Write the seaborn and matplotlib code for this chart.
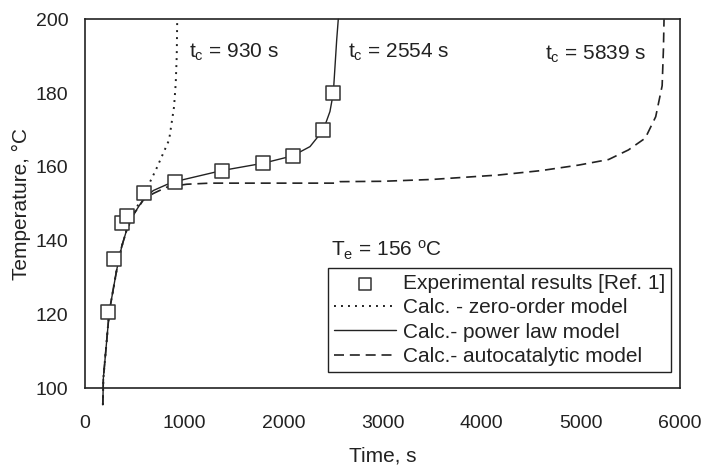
import pandas as pd
import matplotlib
matplotlib.use('Agg')
import matplotlib.pyplot as plt
import seaborn as sns

# experimental points
exp_time = [235, 295, 376, 420, 595, 905, 1378, 1798, 2094, 2403, 2504]
exp_temp = [120.8, 135.0, 144.7, 146.7, 153.0, 156.0, 159.0, 161.0, 163.0, 170.0, 180.0]

# zero-order model (dotted)
zero_time = [180, 185, 245, 319, 370, 420, 487, 540, 615, 715, 848, 898, 915, 925, 930]
zero_temp = [95.5, 102.7, 120.8, 132.0, 138.4, 142.9, 147.0, 150.0, 153.7, 159.2, 167.3, 176.3, 182.7, 190.0, 200.0]

# power law model (solid)
power_time = [180, 185, 245, 319, 370, 420, 487, 588, 689, 823, 905, 1378, 1798, 2094, 2269, 2403,
              2470, 2504, 2521, 2538, 2554]
power_temp = [95.5, 102.7, 120.8, 132.0, 138.4, 142.9, 147.0, 151.2, 153.6, 155.2, 156.0, 159.0, 161.0,
              163.0, 165.5, 170.0, 175.0, 180.0, 187.2, 194.4, 200.0]

# autocatalytic model (dashed)
auto_time = [180, 185, 245, 319, 370, 420, 487, 588, 689, 823, 1025, 1261, 2000, 2530, 2570, 3000,
             3500, 4170, 4600, 4980, 5280, 5480, 5650, 5755, 5820, 5833, 5839]
auto_temp = [95.5, 102.7, 120.8, 132.0, 138.4, 142.9, 147.0, 151.0, 152.8, 154.5, 155.3, 155.6, 155.6,
             155.6, 156.0, 156.1, 156.6, 157.8, 159.0, 160.5, 162.0, 164.6, 167.8, 173.6, 182.0, 192.0, 200.0]

sns.set_style('white')
plt.rcParams['font.family'] = ['Liberation Sans', 'DejaVu Sans']
plt.rcParams['mathtext.fontset'] = 'custom'
plt.rcParams['mathtext.rm'] = 'Liberation Sans'
plt.rcParams['mathtext.it'] = 'Liberation Sans:italic'
plt.rcParams['text.color'] = '#222222'

ink = '#222222'

fig = plt.figure(figsize=(7.05, 4.68), dpi=100)
ax = fig.add_axes([85 / 705, 1 - 388.3 / 468, 595 / 705, 369 / 468])

exp_df = pd.DataFrame({'time': exp_time, 'temp': exp_temp})
zero_df = pd.DataFrame({'time': zero_time, 'temp': zero_temp})
power_df = pd.DataFrame({'time': power_time, 'temp': power_temp})
auto_df = pd.DataFrame({'time': auto_time, 'temp': auto_temp})

sns.lineplot(data=zero_df, x='time', y='temp', sort=False, estimator=None, ax=ax, color=ink,
             linewidth=1.4, linestyle=(0, (1, 2.6)), label='Calc. - zero-order model', clip_on=False)
sns.lineplot(data=power_df, x='time', y='temp', sort=False, estimator=None, ax=ax, color=ink,
             linewidth=1.0, label='Calc.- power law model', clip_on=False)
sns.lineplot(data=auto_df, x='time', y='temp', sort=False, estimator=None, ax=ax, color=ink,
             linewidth=1.2, linestyle=(0, (6, 3.5)), label='Calc.- autocatalytic model', clip_on=False)
sns.scatterplot(data=exp_df, x='time', y='temp', ax=ax, marker='s', s=95, facecolor='white',
                edgecolor='#333333', linewidth=1.1, zorder=5, label='Experimental results [Ref. 1]')

ax.set_xlim(0, 6000)
ax.set_ylim(100, 200)
ax.set_xticks(range(0, 6001, 1000))
ax.set_yticks(range(100, 201, 20))
ax.tick_params(axis='both', direction='in', length=6, width=1, color=ink, labelsize=14, labelcolor=ink)
ax.tick_params(axis='x', pad=19)
ax.tick_params(axis='y', pad=12)
for sp in ax.spines.values():
    sp.set_color(ink)
    sp.set_linewidth(1.2)

ax.set_xlabel('Time, s', fontsize=15, color=ink, labelpad=11)
ax.set_ylabel('Temperature, °C', fontsize=15, color=ink, labelpad=3)

# annotations
ax.text(1052, 191, r't$_\mathregular{c}$ = 930 s', fontsize=15, va='center', ha='left')
ax.text(2655, 191, r't$_\mathregular{c}$ = 2554 s', fontsize=15, va='center', ha='left')
ax.text(4639, 190.5, r't$_\mathregular{c}$ = 5839 s', fontsize=15, va='center', ha='left')
ax.text(2478, 137.5, r'T$_\mathregular{e}$ = 156 $^\mathregular{o}$C', fontsize=15, va='center', ha='left')

handles, labels = ax.get_legend_handles_labels()
order = [3, 0, 1, 2]
leg = ax.legend([handles[i] for i in order], [labels[i] for i in order], loc='lower right',
                bbox_to_anchor=(0.985, 0.044), fontsize=15, frameon=True, fancybox=False,
                edgecolor=ink, framealpha=1, handlelength=3.0, handletextpad=0.3,
                labelspacing=0.25, borderpad=0.3, borderaxespad=0, markerscale=0.85)
leg.get_frame().set_linewidth(1.0)

plt.savefig('out.png', dpi=100)
